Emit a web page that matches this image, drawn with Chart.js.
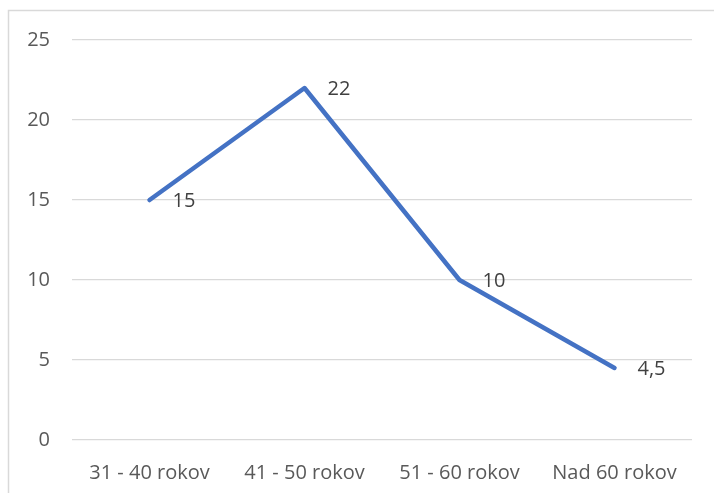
<!DOCTYPE html>
<html>
<head>
<meta charset="utf-8">
<script src="https://cdn.jsdelivr.net/npm/chart.js@4"></script>
<style>
  html, body { margin: 0; padding: 0; background: #fff; }
  #wrap { width: 714px; height: 493px; position: relative; }
</style>
</head>
<body>
<div id="wrap"><canvas id="myChart" width="714" height="493"></canvas></div>
<script>
// data
var categories = ["31 - 40 rokov", "41 - 50 rokov", "51 - 60 rokov", "Nad 60 rokov"];
var values = [15, 22, 10, 4.5];
var yTicks = [0, 5, 10, 15, 20, 25];

var textColor = "#595959";
var fontFamily = "'Open Sans', Lato, sans-serif";

// gray frame of the excel chart area (left and top edges are visible)
var framePlugin = {
  id: "frame",
  beforeDraw: function(chart) {
    var ctx = chart.ctx;
    ctx.save();
    ctx.fillStyle = "#fff";
    ctx.fillRect(0, 0, chart.width, chart.height);
    ctx.strokeStyle = "#d9d9d9";
    ctx.lineWidth = 1.5;
    ctx.strokeRect(8.5, 10.5, 900, 700);
    ctx.restore();
  }
};

// value labels to the right of each point, comma as decimal mark
var labelPlugin = {
  id: "valueLabels",
  afterDatasetsDraw: function(chart) {
    var ctx = chart.ctx;
    var meta = chart.getDatasetMeta(0);
    ctx.save();
    ctx.font = "20px " + fontFamily;
    ctx.fillStyle = "#404040";
    ctx.textAlign = "left";
    ctx.textBaseline = "middle";
    meta.data.forEach(function(pt, i) {
      var txt = String(values[i]).replace(".", ",");
      ctx.fillText(txt, pt.x + 23, pt.y + 1);
    });
    ctx.restore();
  }
};

var ctx = document.getElementById("myChart").getContext("2d");
var myChart = new Chart(ctx, {
  type: "line",
  data: {
    labels: categories,
    datasets: [{
      data: values,
      borderColor: "#4472C4",
      borderWidth: 4.5,
      borderCapStyle: "round",
      borderJoinStyle: "round",
      tension: 0,
      pointRadius: 0,
      pointHoverRadius: 0,
      fill: false
    }]
  },
  options: {
    responsive: false,
    animation: false,
    layout: { padding: { left: 0, right: 22, top: 40, bottom: 0 } },
    plugins: {
      legend: { display: false },
      tooltip: { enabled: false }
    },
    scales: {
      x: {
        offset: true,
        grid: { display: false, drawTicks: false },
        border: { display: false },
        ticks: {
          color: textColor,
          font: { family: fontFamily, size: 20 },
          padding: 21,
          maxRotation: 0
        },
        afterFit: function(s) { s.height = 53; }
      },
      y: {
        min: 0,
        max: 25,
        afterBuildTicks: function(s) {
          s.ticks = yTicks.map(function(v) { return { value: v }; });
        },
        grid: { color: "#d9d9d9", lineWidth: 1.3, drawTicks: false },
        border: { display: false },
        ticks: {
          color: textColor,
          font: { family: fontFamily, size: 20 },
          padding: 22
        },
        afterFit: function(s) { s.width = 72; }
      }
    }
  },
  plugins: [framePlugin, labelPlugin]
});
</script>
</body>
</html>
